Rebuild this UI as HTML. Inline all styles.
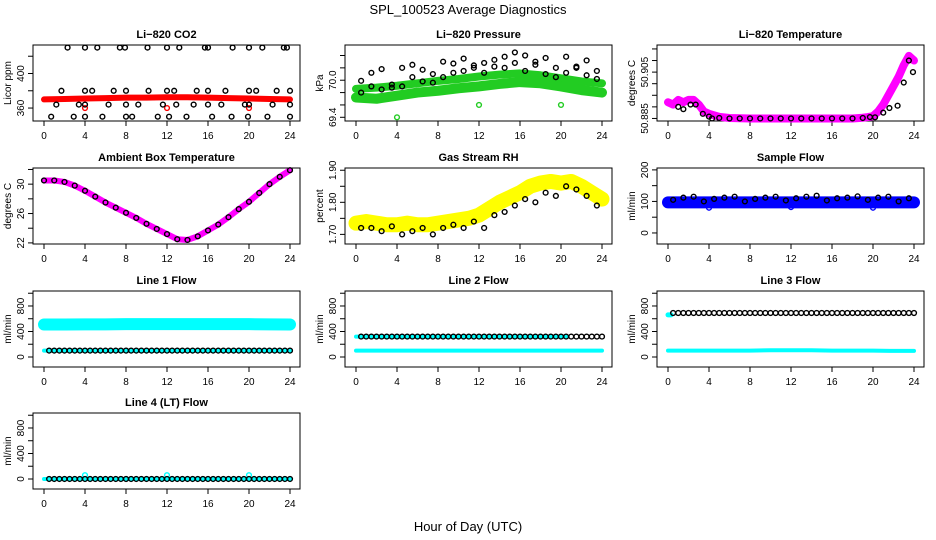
<!DOCTYPE html>
<html><head><meta charset="utf-8">
<style>
html,body{margin:0;padding:0;background:#fff;}
svg{display:block;font-family:"Liberation Sans",sans-serif;}
</style></head>
<body>
<svg id="chart" width="936" height="540" viewBox="0 0 936 540" xmlns="http://www.w3.org/2000/svg">
<text x="468" y="14" text-anchor="middle" font-size="13">SPL_100523  Average Diagnostics</text>
<text x="468" y="531" text-anchor="middle" font-size="13">Hour of Day (UTC)</text>
</svg>
<script>
// ---- shared ----
var xTicks = [0,4,8,12,16,20,24];
var hoursHourly = [0,1,2,3,4,5,6,7,8,9,10,11,12,13,14,15,16,17,18,19,20,21,22,23,24];
var hoursMid = [0.5,1.5,2.5,3.5,4.5,5.5,6.5,7.5,8.5,9.5,10.5,11.5,12.5,13.5,14.5,15.5,16.5,17.5,18.5,19.5,20.5,21.5,22.5,23.5];
var hoursHalf = [0.5,1,1.5,2,2.5,3,3.5,4,4.5,5,5.5,6,6.5,7,7.5,8,8.5,9,9.5,10,10.5,11,11.5,12,12.5,13,13.5,14,14.5,15,15.5,16,16.5,17,17.5,18,18.5,19,19.5,20,20.5,21,21.5,22,22.5,23,23.5,24];
var outlierHours = [4,12,20];

// CO2
var co2TopHours = [2.3,4,5.2,7.4,7.9,10.1,12,13.2,15.7,16,18.4,20,21.3,23.4,23.7];
var co2TopVals = [430,430,430,430,430,430,430,430,430,430,430,430,430,430,430];
var co2MidHours = [1.7,4,4.7,6.8,8,10.2,12,12.7,14.9,16,17.7,20,20.7,22.7,24];
var co2MidVals = [380,380,380,380,380,380,380,380,380,380,380,380,380,380,380];
var co2LowHours = [1.2,3.4,4,6.3,8,9.2,11.6,12.9,14.6,16,17.3,19.6,20,22.3,24];
var co2LowVals = [364,364,364,364,364,364,364,364,364,364,364,364,364,364,364];
var co2BotHours = [0.7,2.9,4,5.7,8,8.6,11.1,12.2,13.9,16.4,18.3,19.9,21.8,24];
var co2BotVals = [350,350,350,350,350,350,350,350,350,350,350,350,350,350];
var co2RedHours = [0,2,4,6,8,10,12,14,16,18,20,22,24];
var co2RedVals = [370,370.5,371,371.5,372,372,372.5,372.5,372,371.5,371,370.5,370];
var co2RedOut = [360,360,360];

// Pressure
var presUpperHours = [0,2,4,6,8,10,12,14,16,18,20,22,24];
var presUpper = [69.86,69.88,69.91,69.95,69.99,70.02,70.06,70.09,70.11,70.08,70.03,69.98,69.95];
var presLower = [69.72,69.70,69.75,69.80,69.83,69.87,69.90,69.94,69.97,69.95,69.90,69.84,69.80];
var presBlackA = [69.99,70.12,70.18,69.88,70.2,70.25,70.17,69.96,70.3,70.27,70.35,70.24,70.28,70.33,70.38,70.45,70.4,70.3,70.36,70.2,70.38,70.22,70.32,70.15];
var presBlackB = [69.8,69.9,69.85,69.93,69.9,70.05,69.98,70.1,70.05,70.12,70.15,70.2,70.12,70.22,70.2,70.28,70.15,70.25,70.1,70.05,70.12,70.2,70.08,70.02];
var presGreenOut = [69.4,69.6,69.6];

// Li-820 temperature
var ltHours = [0,0.5,1,1.5,2,2.5,3,3.5,4,5,6,8,10,12,14,16,18,19,19.5,20,20.5,21,21.5,22,22.5,23,23.5,24];
var ltMag = [50.892,50.891,50.893,50.892,50.893,50.893,50.891,50.888,50.887,50.8857,50.8852,50.885,50.885,50.885,50.885,50.885,50.885,50.8853,50.8856,50.886,50.888,50.891,50.895,50.899,50.903,50.908,50.912,50.910];
var ltBlackHours = [1,1.5,2.2,2.7,3.4,4,4.3,5,6,7,8,9,10,11,12,13,14,15,16,17,18,19,19.7,20.2,21,21.6,22.4,23,23.5,23.9];
var ltBlack = [50.890,50.889,50.891,50.891,50.887,50.8858,50.885,50.8852,50.885,50.885,50.885,50.885,50.885,50.885,50.885,50.885,50.885,50.885,50.885,50.885,50.885,50.8852,50.8856,50.8855,50.8875,50.8895,50.8905,50.9005,50.910,50.905];

// Ambient box temperature
var ambVals = [30.5,30.5,30.3,29.8,29.1,28.3,27.5,26.8,26.1,25.4,24.6,23.9,23.2,22.5,22.4,22.9,23.7,24.5,25.5,26.6,27.6,28.8,30.0,31.0,31.9];

// Gas stream RH
var rhYellow = [1.735,1.74,1.735,1.73,1.73,1.735,1.73,1.73,1.735,1.74,1.745,1.75,1.76,1.78,1.80,1.815,1.83,1.85,1.86,1.865,1.86,1.865,1.85,1.83,1.81];
var rhBlack = [1.72,1.72,1.71,1.725,1.70,1.71,1.72,1.70,1.72,1.73,1.72,1.74,1.72,1.76,1.77,1.79,1.81,1.80,1.83,1.82,1.85,1.84,1.82,1.79];

// Sample flow
var sfBlue = [97,97,97,97,97,97,97,97,97,97,97,97,97,97,97,97,97,97,97,97,97,97,97,97,97];
var sfBlack = [105,112,115,100,108,112,115,100,108,112,115,103,110,115,118,103,110,112,116,105,112,115,100,110];
var sfBlueOut = [80,82,80];

// Line flows
var l1Cyan = [510,510,512,512,515,515,515,515,515,515,515,512,510];
var l1Low = [100,100,100,100,100,100,100,100,100,100,100,100,100];
var l1Black = [100,100,100,100,100,100,100,100,100,100,100,100,100,100,100,100,100,100,100,100,100,100,100,100,100,100,100,100,100,100,100,100,100,100,100,100,100,100,100,100,100,100,100,100,100,100,100,100];
var l2Low = [100,100,100,100,100,100,100,100,100,100,100,100,100];
var l2Black = [320,320,320,320,320,320,320,320,320,320,320,320,320,320,320,320,320,320,320,320,320,320,320,320,320,320,320,320,320,320,320,320,320,320,320,320,320,320,320,320,320,320,320,320,320,320,320,320];
var l3Low = [100,100,100,100,100,105,105,105,100,100,100,95,95];
var l3Black = [690,690,690,690,690,690,690,690,690,690,690,690,690,690,690,690,690,690,690,690,690,690,690,690,690,690,690,690,690,690,690,690,690,690,690,690,690,690,690,690,690,690,690,690,690,690,690,690];
var l4Black = [0,0,0,0,0,0,0,0,0,0,0,0,0,0,0,0,0,0,0,0,0,0,0,0,0,0,0,0,0,0,0,0,0,0,0,0,0,0,0,0,0,0,0,0,0,0,0,0];
var l4Cyan = [0,0,0,0,0,0,0,0,0,0,0,0,0];
var l4CyanOut = [60,60,60];
var flowHours = [0,2,4,6,8,10,12,14,16,18,20,22,24];

var NS = 'http://www.w3.org/2000/svg';
var svg = document.getElementById('chart');
function mk(tag, attrs, parent){ var e=document.createElementNS(NS,tag); for(var k in attrs) e.setAttribute(k,attrs[k]); (parent||svg).appendChild(e); return e; }

var rowTop = [45,168,291,413];
var boxH = 76;
function panel(name, title, col, row, yLo, yHi, ticks, labels, ytitle){
  var g = mk('g',{});
  
  
  var bx = 33 + col*312, bw = 267, by = rowTop[row];
  var x0 = 44 + col*312;
  var P = {g:g, bx:bx, by:by,
    x:function(h){return x0 + h*246/24;},
    y:function(v){return by + boxH - (v-yLo)/(yHi-yLo)*boxH;}};
  var t = mk('text',{x:bx+bw/2,y:by-7,'text-anchor':'middle','font-size':'11','font-weight':'bold'},g);
  t.textContent = title;
  
  
  var box = mk('rect',{x:bx,y:by,width:bw,height:boxH,fill:'none',stroke:'#000','stroke-width':1},g);
  
  
  xTicks.forEach(function(h){
    var X=P.x(h);
    mk('line',{x1:X,x2:X,y1:by+boxH,y2:by+boxH+5,stroke:'#000'},g);
    var l=mk('text',{x:X,y:by+boxH+18,'text-anchor':'middle','font-size':'10'},g);
    l.textContent=h;
    
    
  });
  ticks.forEach(function(v){
    var Y=P.y(v);
    mk('line',{x1:bx-5,x2:bx,y1:Y,y2:Y,stroke:'#000'},g);
  });
  labels.forEach(function(v){
    var Y=P.y(v);
    var l=mk('text',{x:bx-9,y:Y,'text-anchor':'middle','font-size':'10',transform:'rotate(-90 '+(bx-9)+' '+Y+')'},g);
    l.textContent=v;
    
    
  });
  var yt=mk('text',{x:bx-22,y:by+boxH/2,'text-anchor':'middle','font-size':'10',transform:'rotate(-90 '+(bx-22)+' '+(by+boxH/2)+')'},g);
  yt.textContent=ytitle;
  
  
  var clip = mk('g',{},g);
  P.d = clip;
  return P;
}
function band(P, hrs, vals, color, w){
  var pts = hrs.map(function(h,i){return P.x(h)+','+P.y(vals[i]);}).join(' ');
  var e = mk('polyline',{points:pts,fill:'none',stroke:color,'stroke-width':w,'stroke-linejoin':'round','stroke-linecap':'round'},P.d);
  
  
}
function pts(P, hrs, vals, color, r, sw){
  hrs.forEach(function(h,i){
    var c = mk('circle',{cx:P.x(h),cy:P.y(vals[i]),r:r||2.4,fill:'none',stroke:color,'stroke-width':sw||1.4},P.d);
    
    
  });
}

// Row 1
var p = panel('panel-co2','Li\u2212820 CO2',0,0,345,433,[360,380,400,420],[360,400],'Licor ppm');
band(p, co2RedHours, co2RedVals, '#ff0000', 6);
pts(p, outlierHours, co2RedOut, '#ff0000');
pts(p, co2TopHours, co2TopVals, '#000'); pts(p, co2MidHours, co2MidVals, '#000');
pts(p, co2LowHours, co2LowVals, '#000'); pts(p, co2BotHours, co2BotVals, '#000');

p = panel('panel-pressure','Li\u2212820 Pressure',1,0,69.34,70.57,[69.4,69.6,69.8,70.0,70.2,70.4],['69.4','70.0'],'kPa');
band(p, presUpperHours, presUpper, '#22cc22', 8);
band(p, presUpperHours, presLower, '#22cc22', 10);
pts(p, outlierHours, presGreenOut, '#22cc22');
pts(p, hoursMid, presBlackA, '#000'); pts(p, hoursMid, presBlackB, '#000');

p = panel('panel-li820-temp','Li\u2212820 Temperature',2,0,50.8839,50.9167,[50.885,50.89,50.895,50.9,50.905,50.91,50.915],['50.885','50.905'],'degrees C');
band(p, ltHours, ltMag, '#ff00ff', 8);
pts(p, ltBlackHours, ltBlack, '#000');

// Row 2
p = panel('panel-ambient-temp','Ambient Box Temperature',0,1,21.85,32.2,[22,24,26,28,30,32],[22,26,30],'degrees C');
band(p, hoursHourly, ambVals, '#ff00ff', 6);
pts(p, hoursHourly, ambVals, '#000');

p = panel('panel-rh','Gas Stream RH',1,1,1.67,1.907,[1.70,1.75,1.80,1.85,1.90],['1.70','1.80','1.90'],'percent');
band(p, hoursHourly, rhYellow, '#ffff00', 15);
pts(p, hoursMid, rhBlack, '#000');

p = panel('panel-sample-flow','Sample Flow',2,1,-35,206,[0,50,100,150,200],[0,100,200],'ml/min');
band(p, hoursHourly, sfBlue, '#0000ff', 12);
pts(p, outlierHours, sfBlueOut, '#0000ff');
pts(p, hoursMid, sfBlack, '#000');

// Row 3
var fT=[0,200,400,600,800,1000], fL=[0,400,800];
p = panel('panel-line1-flow','Line 1 Flow',0,2,-157,1035,fT,fL,'ml/min');
band(p, flowHours, l1Cyan, '#00ffff', 12);
band(p, flowHours, l1Low, '#00ffff', 4);
pts(p, hoursHalf, l1Black, '#000');

p = panel('panel-line2-flow','Line 2 Flow',1,2,-157,1035,fT,fL,'ml/min');
band(p, flowHours, l2Low, '#00ffff', 4);
band(p, [0,20.5], [320,320], '#00ffff', 4);
pts(p, hoursHalf, l2Black, '#000');

p = panel('panel-line3-flow','Line 3 Flow',2,2,-157,1035,fT,fL,'ml/min');
band(p, flowHours, l3Low, '#00ffff', 4);
band(p, [0,0.3], [660,660], '#00ffff', 5);
pts(p, hoursHalf, l3Black, '#000');

// Row 4
p = panel('panel-line4-flow','Line 4 (LT) Flow',0,3,-157,1035,fT,fL,'ml/min');
band(p, flowHours, l4Cyan, '#00ffff', 4);
pts(p, outlierHours, l4CyanOut, '#00ffff');
pts(p, hoursHalf, l4Black, '#000');
</script>
</body></html>
